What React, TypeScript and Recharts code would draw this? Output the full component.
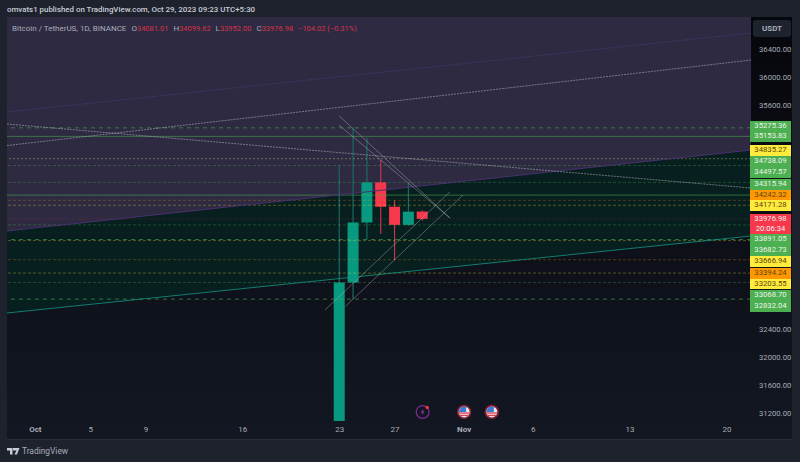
import * as React from "react";
import {
  Area,
  Bar,
  ComposedChart,
  ReferenceDot,
  ReferenceLine,
  XAxis,
  YAxis,
} from "recharts";

// days are counted from Oct 1 = 1, so Nov 1 = 32
const candleDays = [23, 24, 25, 26, 27, 28, 29];
const opens = [29992, 33069, 33925, 34497, 34150, 33891, 34081.01];
const closes = [33069, 33925, 34497, 34150, 33891, 34080, 33976.98];
const highs = [34741, 35280, 35130, 34818, 34242, 34490, 34099.62];
const lows = [29883, 32832, 33685, 33760, 33390, 33880, 33952];

const levelPrices = [
  35275.36, 35153.83, 34835.27, 34738.09, 34497.57, 34315.94, 34242.32,
  34171.28, 33891.05, 33682.73, 33666.94, 33394.24, 33203.55, 33068.7,
  32832.04,
];
const levelKinds = [
  "greenDash", "greenSolid", "yellowDot", "greenDim", "greenDim", "greenSolid", "orange",
  "yellow", "greenDim", "greenDash", "yellow", "orange", "yellow", "greenDim",
  "greenDash",
];
const lastPrice = 33976.98;
const lastCountdown = "20:06:34";

const priceTicks = [36400, 36000, 35600, 32400, 32000, 31600, 31200];
const dayTicks = [1, 5, 9, 16, 23, 27, 32, 37, 44, 51];
const dayLabels = ["Oct", "5", "9", "16", "23", "27", "Nov", "6", "13", "20"];

const edgeDays = [-1.05, 52.74];
const channelTop = [36857, 36857];
const channelMiddle = [33804, 34959];
const channelBottom = [32634, 33732];
const upperRay = [35501, 36628];
const upperRay2 = [35023, 36243];
const fallingRay = [35330, 34417];

const wedgeDays = [
  [22.95, 30.98],
  [22.95, 30.98],
  [21.94, 30.98],
  [23.39, 31.92],
];
const wedgePrices = [
  [35448, 33989],
  [35316, 33989],
  [32677, 34364],
  [32724, 34317],
];

const eventDays = [29, 32, 34];
const eventPrice = 31222;

const domainX: [number, number] = [-1.05, 52.74];
const domainY: [number, number] = [31093, 36857];

const upColor = "#089981";
const downColor = "#f7374c";
const font = "Roboto, sans-serif";

const levelStyles: Record<string, { stroke: string; dash?: string; opacity: number }> = {
  greenDash: { stroke: "#4caf50", dash: "4 4", opacity: 0.6 },
  greenSolid: { stroke: "#4caf50", opacity: 0.55 },
  greenDim: { stroke: "#4caf50", dash: "3 2", opacity: 0.32 },
  yellowDot: { stroke: "#d8d27a", dash: "2 2", opacity: 0.4 },
  yellow: { stroke: "#ffeb3b", dash: "3 2", opacity: 0.3 },
  orange: { stroke: "#ff9800", dash: "3 2", opacity: 0.28 },
};

const badgeColors: Record<string, string> = {
  greenDash: "#4caf50",
  greenSolid: "#4caf50",
  greenDim: "#4caf50",
  yellowDot: "#ffeb3b",
  yellow: "#ffeb3b",
  orange: "#ff9800",
};

// the price scale pushes colliding labels apart, so these tops are layout only
const badgeTops = [120.5, 131.2, 145, 156, 167, 179, 189.7, 200.4, 234.3, 245, 256, 267.7, 278.6, 290, 300.7];
const lastBadgeTop = 214;

const candleRows = candleDays.map((day, i) => ({
  day,
  open: opens[i],
  close: closes[i],
  high: highs[i],
  low: lows[i],
  range: [lows[i], highs[i]],
}));

const topBand = edgeDays.map((day, i) => ({ day, band: [channelMiddle[i], channelTop[i]] }));
const lowBand = edgeDays.map((day, i) => ({ day, band: [channelBottom[i], channelMiddle[i]] }));

function Candle(props: any) {
  const { x, y, width, height, payload } = props;
  const span = payload.high - payload.low;
  const yOf = (price: number) => y + ((payload.high - price) / span) * height;
  const cx = x + width / 2;
  const up = payload.close >= payload.open;
  const color = up ? upColor : downColor;
  const top = yOf(Math.max(payload.open, payload.close));
  const bottom = yOf(Math.min(payload.open, payload.close));
  return (
    <g>
      <line
        x1={cx}
        x2={cx}
        y1={y}
        y2={y + height}
        stroke={up ? "#1a6a64" : "#c8324a"}
        strokeWidth={1.2}
      />
      <rect x={x} y={top} width={width} height={bottom - top} fill={color} />
    </g>
  );
}

function DayTick(props: any) {
  const { x, y, payload } = props;
  const label = dayLabels[dayTicks.indexOf(payload.value)];
  const month = label === "Oct" || label === "Nov";
  return (
    <text
      x={x}
      y={y + 3}
      textAnchor="middle"
      fontFamily={font}
      fontSize={8}
      fontWeight={month ? 700 : 400}
      fill="#a9acb6"
    >
      {label}
    </text>
  );
}

function EventIcon(props: any) {
  const { cx, cy, index } = props;
  if (index === 0) {
    return (
      <g>
        <circle cx={cx} cy={cy} r={6.4} fill="none" stroke="#7b2d94" strokeWidth={1.2} />
        <path
          d={`M${cx + 1} ${cy - 3.5}L${cx - 2} ${cy + 0.5}H${cx}L${cx - 1} ${cy + 3.5}L${cx + 2} ${cy - 0.5}H${cx}Z`}
          fill="#8e3aa8"
        />
        <circle cx={cx + 4.5} cy={cy - 4.5} r={1.7} fill="#f23645" />
      </g>
    );
  }
  return (
    <g>
      <circle cx={cx} cy={cy} r={7.2} fill="#8a1f30" />
      <circle cx={cx} cy={cy} r={5.5} fill="#e8e8ee" />
      <rect x={cx - 5.3} y={cy + 0.4} width={10.6} height={1.3} fill="#d8404f" />
      <rect x={cx - 4.4} y={cy + 2.8} width={8.8} height={1.2} fill="#d8404f" />
      <path d={`M${cx - 5.3} ${cy}A5.5 5.5 0 0 1 ${cx + 2} ${cy - 5.1}V${cy}Z`} fill="#3a78d8" />
    </g>
  );
}

function Badge({ top, color, text, sub }: { top: number; color: string; text: string; sub?: string }) {
  const dark = color === "#ffeb3b" || color === "#ff9800";
  return (
    <div
      style={{
        position: "absolute",
        left: 750,
        top,
        width: 41,
        height: sub ? 20.3 : 10.9,
        background: color,
        color: dark ? "#5a4610" : "#eef3ee",
        fontSize: 7.7,
        lineHeight: "10.2px",
        textAlign: "center",
      }}
    >
      {text}
      {sub ? <br /> : null}
      {sub}
    </div>
  );
}

export default function App() {
  return (
    <div
      style={{
        position: "absolute",
        left: 0,
        top: 0,
        width: 800,
        height: 462,
        overflow: "hidden",
        background: "#1e222d",
        fontFamily: font,
      }}
    >
      <div
        style={{
          position: "absolute",
          left: 7,
          top: 17,
          width: 785,
          height: 422,
          background: "linear-gradient(#06070c 0%, #0e1119 60%, #131722 100%)",
          borderBottom: "1px solid #2a2e39",
        }}
      />
      <div
        style={{
          position: "absolute",
          left: 7,
          top: 5,
          fontSize: 7.9,
          fontWeight: 500,
          color: "#c8ccd6",
          whiteSpace: "nowrap",
        }}
      >
        omvats1 published on TradingView.com, Oct 29, 2023 09:23 UTC+5:30
      </div>

      <div style={{ position: "absolute", left: 0, top: 0 }}>
        <ComposedChart
          width={800}
          height={462}
          data={candleRows}
          margin={{ top: 17, right: 8, bottom: 23, left: 7 }}
        >
          <XAxis
            dataKey="day"
            type="number"
            domain={domainX}
            allowDataOverflow
            ticks={dayTicks}
            interval={0}
            height={18}
            tick={<DayTick />}
            tickLine={false}
            axisLine={false}
          />
          <YAxis
            orientation="right"
            type="number"
            domain={domainY}
            allowDataOverflow
            ticks={priceTicks}
            interval={0}
            width={41}
            tick={{ fill: "#a9acb6", fontSize: 7.7, fontFamily: font }}
            tickFormatter={(value: number) => value.toFixed(2)}
            tickLine={false}
            axisLine={false}
          />
          <Area
            data={topBand}
            dataKey="band"
            type="linear"
            fill="#2e2a42"
            fillOpacity={1}
            stroke="none"
            isAnimationActive={false}
          />
          <Area
            data={lowBand}
            dataKey="band"
            type="linear"
            fill="#071f1f"
            fillOpacity={1}
            stroke="none"
            isAnimationActive={false}
          />
          {levelPrices.map((price, i) => {
            const style = levelStyles[levelKinds[i]];
            return (
              <ReferenceLine
                key={price}
                y={price}
                stroke={style.stroke}
                strokeDasharray={style.dash}
                strokeOpacity={style.opacity}
              />
            );
          })}
          <ReferenceLine y={lastPrice} stroke={downColor} strokeDasharray="1 2" strokeOpacity={0.3} />
          <ReferenceLine
            segment={[
              { x: edgeDays[0], y: channelMiddle[0] },
              { x: edgeDays[1], y: channelMiddle[1] },
            ]}
            stroke="#4a3270"
          />
          <ReferenceLine
            segment={[
              { x: edgeDays[0], y: channelBottom[0] },
              { x: edgeDays[1], y: channelBottom[1] },
            ]}
            stroke="#159583"
            strokeOpacity={0.8}
          />
          <ReferenceLine
            segment={[
              { x: edgeDays[0], y: upperRay[0] },
              { x: edgeDays[1], y: upperRay[1] },
            ]}
            stroke="#52366f"
            strokeDasharray="1 1"
          />
          <ReferenceLine
            segment={[
              { x: edgeDays[0], y: upperRay2[0] },
              { x: edgeDays[1], y: upperRay2[1] },
            ]}
            stroke="#b8b8c4"
            strokeOpacity={0.55}
            strokeDasharray="2 1"
          />
          <ReferenceLine
            segment={[
              { x: edgeDays[0], y: fallingRay[0] },
              { x: edgeDays[1], y: fallingRay[1] },
            ]}
            stroke="#b8b8c4"
            strokeOpacity={0.55}
            strokeDasharray="2 1"
          />
          <Bar
            dataKey="range"
            barSize={11}
            shape={<Candle />}
            isAnimationActive={false}
          />
          {wedgeDays.map((days, i) => (
            <ReferenceLine
              key={i}
              segment={[
                { x: days[0], y: wedgePrices[i][0] },
                { x: days[1], y: wedgePrices[i][1] },
              ]}
              stroke="#c4c4cc"
              strokeOpacity={0.38}
            />
          ))}
          {eventDays.map((day, i) => (
            <ReferenceDot
              key={day}
              x={day}
              y={eventPrice}
              shape={(p: any) => <EventIcon {...p} index={i} />}
            />
          ))}
        </ComposedChart>
      </div>

      <div
        style={{
          position: "absolute",
          left: 12,
          top: 24,
          fontSize: 8,
          color: "#a9acb8",
          whiteSpace: "nowrap",
        }}
      >
        Bitcoin / TetherUS, 1D, BINANCE
        <span style={{ marginLeft: 5 }}>O</span>
        <span style={{ color: "#d8324a", fontSize: 7.5 }}>34081.01</span>
        <span style={{ marginLeft: 5 }}>H</span>
        <span style={{ color: "#d8324a", fontSize: 7.5 }}>34099.62</span>
        <span style={{ marginLeft: 5 }}>L</span>
        <span style={{ color: "#d8324a", fontSize: 7.5 }}>33952.00</span>
        <span style={{ marginLeft: 5 }}>C</span>
        <span style={{ color: "#d8324a", fontSize: 7.5 }}>33976.98</span>
        <span style={{ marginLeft: 5, color: "#d8324a", fontSize: 7.5 }}>−104.02 (−0.31%)</span>
      </div>

      <div
        style={{
          position: "absolute",
          left: 753,
          top: 20,
          width: 38,
          height: 17,
          borderRadius: 3,
          background: "#1e222d",
          color: "#a9acb6",
          fontSize: 8,
          fontWeight: 700,
          lineHeight: "17px",
          textAlign: "center",
        }}
      >
        USDT
      </div>

      {levelPrices.map((price, i) => (
        <Badge
          key={price}
          top={badgeTops[i]}
          color={badgeColors[levelKinds[i]]}
          text={price.toFixed(2)}
        />
      ))}
      <Badge top={lastBadgeTop} color={downColor} text={lastPrice.toFixed(2)} sub={lastCountdown} />

      <svg style={{ position: "absolute", left: 7, top: 447.5 }} width={13} height={8}>
        <path d="M0 0H5.5V6.5H3V2.5H0ZM6 0H12.5L10 6.5H7.5L9.5 2.5H6Z" fill="#c8ccd6" />
      </svg>
      <div
        style={{
          position: "absolute",
          left: 22,
          top: 446,
          fontSize: 8.4,
          color: "#a9acb8",
          whiteSpace: "nowrap",
        }}
      >
        TradingView
      </div>
    </div>
  );
}
